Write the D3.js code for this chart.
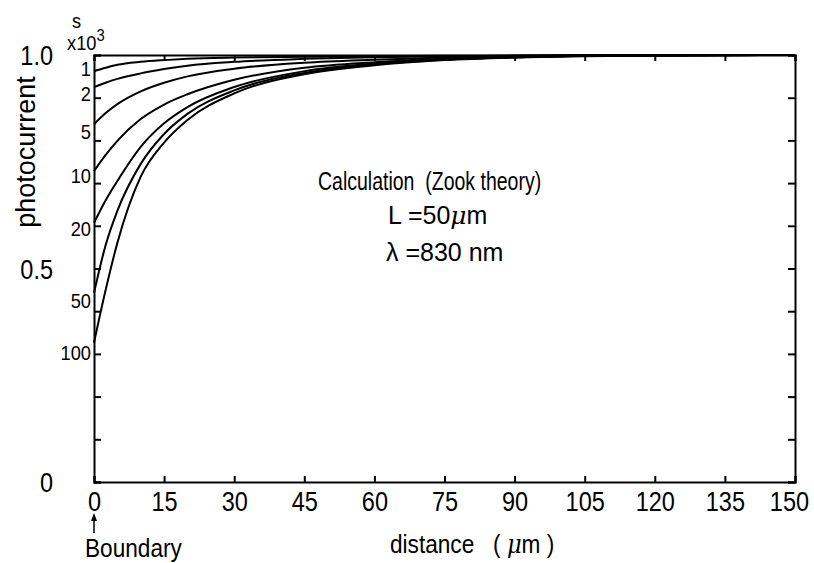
<html>
<head>
<meta charset="utf-8">
<style>
  body { margin: 0; background: white; }
  svg { font-family: "Liberation Sans", Arial, sans-serif; }
  .axis path, .axis line { stroke: black; stroke-width: 2; }
  .axis text { font-size: 27px; fill: black; font-family: "Liberation Sans", Arial, sans-serif; }
</style>
<script src="https://cdn.jsdelivr.net/npm/d3@7"></script>
</head>
<body>
<svg id="chart"></svg>
<script>
// distance from boundary (um)
let distances = [0, 2.5, 5, 10, 15, 20, 30, 45, 60, 75, 90, 105, 120, 150]

// surface recombination velocity labels (x10^3)
let sLabels = ["1", "2", "5", "10", "20", "50", "100"]

// normalised photocurrent, one row per s value
let s1   = [0.962, 0.970, 0.977, 0.984, 0.988, 0.991, 0.994, 0.996, 0.997, 0.998, 0.999, 1.0, 1.0, 1.0]
let s2   = [0.925, 0.935, 0.944, 0.957, 0.967, 0.975, 0.984, 0.991, 0.995, 0.997, 0.998, 0.999, 1.0, 1.0]
let s5   = [0.838, 0.864, 0.885, 0.915, 0.935, 0.950, 0.968, 0.982, 0.989, 0.994, 0.997, 0.998, 0.999, 1.0]
let s10  = [0.728, 0.766, 0.799, 0.850, 0.884, 0.908, 0.942, 0.970, 0.983, 0.991, 0.995, 0.998, 0.999, 1.0]
let s20  = [0.607, 0.660, 0.705, 0.785, 0.840, 0.878, 0.925, 0.962, 0.980, 0.990, 0.995, 0.998, 0.999, 1.0]
let s50  = [0.443, 0.555, 0.635, 0.745, 0.815, 0.862, 0.917, 0.958, 0.978, 0.989, 0.995, 0.998, 0.999, 1.0]
let s100 = [0.326, 0.450, 0.560, 0.715, 0.795, 0.848, 0.910, 0.955, 0.976, 0.988, 0.994, 0.997, 0.999, 1.0]

let xTicks = [0, 15, 30, 45, 60, 75, 90, 105, 120, 135, 150]
let yTicks = [0, 0.1, 0.2, 0.3, 0.4, 0.5, 0.6, 0.7, 0.8, 0.9, 1.0]
let yLabels = [0, 0.5, 1.0]

let width = 814, height = 563
let margin = { top: 55, right: 19, bottom: 81, left: 94 }
let narrow = 0.87
let svg = d3.select("#chart").attr("width", width).attr("height", height)

let x = d3.scaleLinear().domain([0, 150]).range([margin.left, width - margin.right])
let y = d3.scaleLinear().domain([0, 1]).range([height - margin.bottom, margin.top])

let series = [s1, s2, s5, s10, s20, s50, s100]

// narrow lettering like the original stencil text
function label(px, py, str, size, anchor, sx) {
  return svg.append("g")
    .attr("transform", `translate(${px},${py}) scale(${sx || narrow},1)`)
    .append("text")
    .attr("text-anchor", anchor || "start")
    .attr("font-size", size)
    .style("white-space", "pre")
    .text(str)
}

// frame with inward ticks on all four sides
svg.append("g").attr("class", "axis")
  .attr("transform", `translate(0,${y(0)})`)
  .call(d3.axisBottom(x).tickValues(xTicks).tickSize(-6).tickPadding(10))
  .call(g => g.select(".domain").attr("stroke-width", 2.5))
  .call(g => g.selectAll(".tick text").attr("transform", `scale(${narrow},1)`))
  .call(g => g.selectAll(".tick text").filter(d => d === 150).attr("dx", -7))

svg.append("g").attr("class", "axis")
  .attr("transform", `translate(0,${y(1)})`)
  .call(d3.axisTop(x).tickValues(xTicks).tickSize(-6).tickFormat(""))

svg.append("g").attr("class", "axis")
  .attr("transform", `translate(${x(0)},0)`)
  .call(d3.axisLeft(y).tickValues(yTicks).tickSize(-7).tickFormat(""))

svg.append("g").attr("class", "axis")
  .attr("transform", `translate(${x(150)},0)`)
  .call(d3.axisRight(y).tickValues(yTicks).tickSize(-7).tickFormat(""))

// curves
let line = d3.line()
  .x((d, i) => x(distances[i]))
  .y(d => y(d))
  .curve(d3.curveMonotoneX)

svg.append("g").selectAll("path").data(series).enter().append("path")
  .attr("d", d => line(d))
  .attr("fill", "none")
  .attr("stroke", "black")
  .attr("stroke-width", 2)

// s labels just under the curve starts
let labelDy = [5, 14, 15, 12, 13, 15, 17]
series.forEach((d, i) => label(x(0) - 3, y(d[0]) + labelDy[i], sLabels[i], 21, "end"))

label(72, 28, "s", 21)
let hdr = label(67, 50, "x10", 21)
hdr.append("tspan").attr("dy", -9).attr("font-size", 17).text("3")

// photocurrent scale labels
yLabels.forEach(v => label(53, y(v) + 10, v === 0 ? "0" : d3.format(".1f")(v), 27, "end"))

svg.append("text")
  .attr("transform", `translate(35,152) rotate(-90)`)
  .attr("text-anchor", "middle")
  .attr("font-size", 27)
  .text("photocurrent")

// x labels
label(85, 557, "Boundary", 26)
svg.append("line").attr("x1", 94).attr("x2", 94).attr("y1", 533).attr("y2", 519)
  .attr("stroke", "black").attr("stroke-width", 1.5)
svg.append("path").attr("d", "M91,521 L94,513 L97,521 Z").attr("fill", "black")

let xl = label(390, 553, "distance   ( ", 26)
xl.append("tspan").attr("font-family", "DejaVu Serif").attr("font-style", "italic").text("\u03bc")
xl.append("tspan").text("m )")

// annotation
label(318, 190, "Calculation  (Zook theory)", 25, "start", 0.78)
let la = label(388, 224, "L =50", 25, "start", 1)
la.append("tspan").attr("font-family", "DejaVu Serif").attr("font-style", "italic").text("\u03bc")
la.append("tspan").text("m")
label(386, 261, "\u03bb =830 nm", 25, "start", 1)
</script>
</body>
</html>
